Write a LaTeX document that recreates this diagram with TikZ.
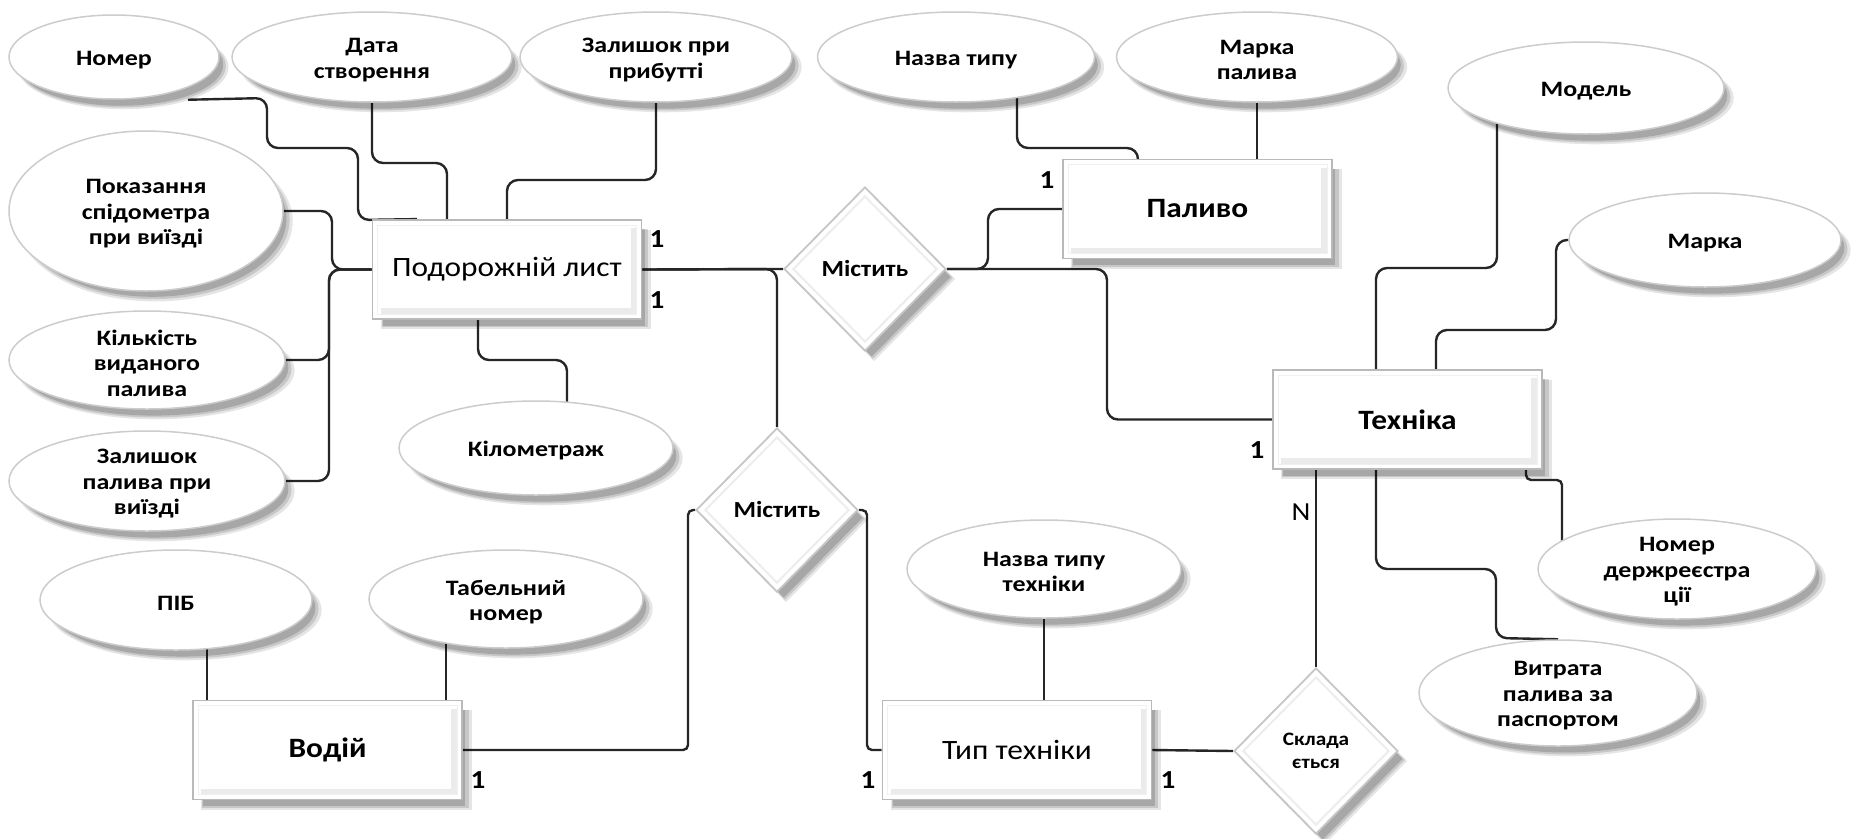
\documentclass[tikz,border=0pt]{standalone}
\usepackage{fontspec}
\setmainfont{Carlito}
\newfontfamily\erfont[FakeStretch=1.12]{Carlito}
\newfontfamily\attrfont[FakeStretch=1.18]{Carlito}
\usetikzlibrary{shapes.geometric,shadows,calc}
\pgfdeclarelayer{back}
\pgfdeclarelayer{wires}
\pgfsetlayers{back,wires,main}

\begin{document}
\begin{tikzpicture}[x=1pt, y=-1pt,
  softshadow/.style={
      general shadow={fill=black, opacity=0.10, shadow xshift=9pt, shadow yshift=-10pt, shadow scale=1.005},
      general shadow={fill=black, opacity=0.13, shadow xshift=8pt, shadow yshift=-9pt, shadow scale=0.99},
      general shadow={fill=black, opacity=0.16, shadow xshift=7pt, shadow yshift=-8pt, shadow scale=0.975}},
  entity/.style={rectangle, draw=gray!55, line width=1.8pt, fill=white,
      minimum width=269pt, minimum height=99pt, inner sep=0pt, softshadow,
      font=\erfont\fontsize{28}{32}\selectfont,
      path picture={
        \draw[gray!16, line width=6pt]
          ([xshift=8pt,yshift=8pt]path picture bounding box.south west)
          -- ([xshift=-8pt,yshift=8pt]path picture bounding box.south east)
          -- ([xshift=-8pt,yshift=-8pt]path picture bounding box.north east);
        \draw[gray!12, line width=1pt]
          ([xshift=5pt,yshift=5pt]path picture bounding box.south west)
          rectangle ([xshift=-5pt,yshift=-5pt]path picture bounding box.north east);
      }},
  boldentity/.style={entity, font=\erfont\bfseries\fontsize{28}{32}\selectfont},
  attr/.style={ellipse, draw=gray!40, line width=1.5pt, fill=white,
      inner sep=0pt, softshadow},
  rel/.style={diamond, draw=gray!45, line width=1.8pt, fill=white,
      inner sep=0pt, minimum width=162pt, minimum height=164pt, softshadow,
      align=center, font=\erfont\bfseries\fontsize{23}{26}\selectfont,
      path picture={
        \draw[gray!14, line width=2pt]
          ([yshift=-9pt]path picture bounding box.north)
          -- ([xshift=-9pt]path picture bounding box.east)
          -- ([yshift=9pt]path picture bounding box.south)
          -- ([xshift=9pt]path picture bounding box.west) -- cycle;
      }},
  lbl/.style={font=\attrfont\bfseries\fontsize{22}{25.5}\selectfont,
      align=center, inner sep=0pt, yshift=-3pt},
  card/.style={font=\erfont\bfseries\fontsize{26}{30}\selectfont, inner sep=0pt},
  wire/.style={draw=black!85, line width=2.4pt, rounded corners=11pt},
  tightwire/.style={wire, rounded corners=5pt}
]
\useasboundingbox (0,0) rectangle (1854,838);
\begin{pgfonlayer}{back}
  \fill[white] (0,0) rectangle (1854,838);
\end{pgfonlayer}

% ---- entities ----
\node[entity]     (pl)  at (507,269.5)  {Подорожній лист};
\node[boldentity] (pal) at (1197.5,209) {Паливо};
\node[boldentity] (teh) at (1407.5,419.5) {Техніка};
\node[boldentity] (vod) at (327.5,750) {Водій};
\node[entity]     (tt)  at (1017,750)   {Тип техніки};

% ---- relationships ----
\node[rel] (m1) at (865,269) {Містить};
\node[rel] (m2) at (777,510) {Містить};
\node[rel, minimum width=164pt, minimum height=166pt,
      font=\erfont\bfseries\fontsize{19}{23}\selectfont] (sk) at (1316,751) {Склада\\ється};

% ---- attributes ----
\node[attr, minimum width=210pt, minimum height=84pt] (a1) at (114,57) {};
\node[lbl] (a1t) at (a1) {Номер};
\node[attr, minimum width=280pt, minimum height=90pt] (a2) at (372,57) {};
\node[lbl] (a2t) at (a2) {Дата\\створення};
\node[attr, minimum width=272pt, minimum height=90pt] (a3) at (656,57) {};
\node[lbl] (a3t) at (a3) {Залишок при\\прибутті};
\node[attr, minimum width=277pt, minimum height=90pt] (a4) at (956,57) {};
\node[lbl] (a4t) at (a4) {Назва типу};
\node[attr, minimum width=281pt, minimum height=90pt] (a5) at (1257,57) {};
\node[lbl] (a5t) at (a5) {Марка\\палива};
\node[attr, minimum width=276pt, minimum height=92pt] (a6) at (1586,88) {};
\node[lbl] (a6t) at (a6) {Модель};
\node[attr, minimum width=272pt, minimum height=94pt] (a7) at (1705,240) {};
\node[lbl] (a7t) at (a7) {Марка};
\node[attr, minimum width=274pt, minimum height=160pt] (a8) at (146,211) {};
\node[lbl] (a8t) at (a8) {Показання\\спідометра\\при виїзді};
\node[attr, minimum width=276pt, minimum height=98pt] (a9) at (147,360) {};
\node[lbl] (a9t) at (a9) {Кількість\\виданого\\палива};
\node[attr, minimum width=276pt, minimum height=100pt] (a10) at (147,481) {};
\node[lbl] (a10t) at (a10) {Залишок\\палива при\\виїзді};
\node[attr, minimum width=274pt, minimum height=94pt] (a11) at (536,448) {};
\node[lbl] (a11t) at (a11) {Кілометраж};
\node[attr, minimum width=272pt, minimum height=100pt] (a12) at (176,600) {};
\node[lbl] (a12t) at (a12) {ПІБ};
\node[attr, minimum width=274pt, minimum height=98pt] (a13) at (506,599) {};
\node[lbl] (a13t) at (a13) {Табельний\\номер};
\node[attr, minimum width=274pt, minimum height=98pt] (a14) at (1044,569) {};
\node[lbl] (a14t) at (a14) {Назва типу\\техніки};
\node[attr, minimum width=278pt, minimum height=100pt] (a15) at (1677,569) {};
\node[lbl] (a15t) at (a15) {Номер\\держреєстра\\ції};
\node[attr, minimum width=278pt, minimum height=106pt] (a16) at (1558,693) {};
\node[lbl] (a16t) at (a16) {Витрата\\палива за\\паспортом};

% ---- cardinalities ----
\node[card] (c1) at (657,239) {1};
\node[card] (c2) at (657,300) {1};
\node[card] (c3) at (1047,180) {1};
\node[card] (c4) at (1257,450) {1};
\node[card, font=\erfont\fontsize{26}{30}\selectfont] (c5) at (1301,512) {N};
\node[card] (c6) at (478,780) {1};
\node[card] (c7) at (868,780) {1};
\node[card] (c8) at (1168,780) {1};

% ---- connectors ----
\begin{pgfonlayer}{wires}
  % attributes of the waybill
  \draw[wire] ($(a1.south)+(74,0)$) -- (267,98) -- (267,148) -- (358,148) -- (358,220) -- (pl.north -| 417,0);
  \draw[wire] (a2.south) -- (372,163) -- (447,163) -- (pl.north -| 447,0);
  \draw[wire] (a3.south) -- (656,180) -- (507,180) -- (pl.north -| 507,0);
  \draw[wire] (a8.east) -- (332,211) -- (332,269.5) -- (pl.west);
  \draw[wire] (a9.east) -- (329,360) -- (329,269.5) -- (pl.west);
  \draw[wire] (a10.east) -- (329,481) -- (329,269.5) -- (pl.west);
  \draw[wire] (pl.south -| 478,0) -- (478,360) -- (567,360) -- (567,0 |- a11.center);
  % relationships
  \draw[wire] (pl.east) -- (m1.west);
  \draw[wire] (pl.east) -- (777,269) -- (m2.north);
  \draw[wire] (m1.east) -- (1107,269) -- (1107,419.5) -- (teh.west);
  \draw[wire] (m1.east) -- (988,269) -- (988,209) -- (pal.west);
  \draw[tightwire] (m2.west) -- (688,510) -- (688,750) -- (vod.east);
  \draw[tightwire] (m2.east) -- (867,510) -- (867,750) -- (tt.west);
  \draw[wire] (tt.east) -- (sk.west);
  \draw[wire] (sk.north |- teh.south) -- (sk.north);
  % attributes of fuel
  \draw[wire] (1017,0 |- a4.center) -- (1017,148) -- (1138,148) -- (pal.north -| 1138,0);
  \draw[wire] (a5.south) -- (a5.south |- pal.north);
  % attributes of machinery
  \draw[wire] (1497,0 |- a6.center) -- (1497,268) -- (1376,268) -- (teh.north -| 1376,0);
  \draw[wire] (a7.west) -- (1556,240) -- (1556,330) -- (1436,330) -- (teh.north -| 1436,0);
  \draw[tightwire] (teh.south -| 1526,0) -- (1526,480) -- (1562,480) -- (1562,0 |- a15.center);
  \draw[wire] (teh.south -| 1376,0) -- (1376,569) -- (1496,569) -- (1496,638) -- (a16.north);
  \draw[wire] (a14.south) -- (a14.south |- tt.north);
  % attributes of the driver
  \draw[wire] (207,0 |- a12.center) -- (vod.north -| 207,0);
  \draw[wire] (446,0 |- a13.center) -- (vod.north -| 446,0);
\end{pgfonlayer}
\end{tikzpicture}
\end{document}
